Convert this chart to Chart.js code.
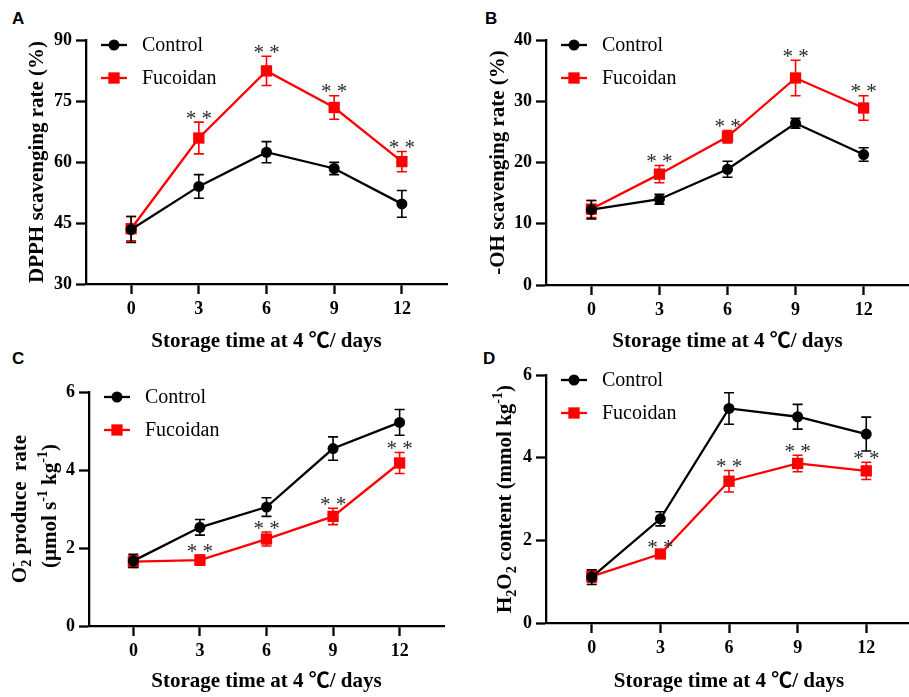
<!DOCTYPE html>
<html>
<head>
<meta charset="utf-8">
<script src="https://cdn.jsdelivr.net/npm/chart.js@4.4.1/dist/chart.umd.min.js"></script>
<style>
  html, body { margin: 0; padding: 0; background: #fff; width: 909px; height: 697px; overflow: hidden; position: relative; }
  canvas { position: absolute; }
  .tag { position: absolute; font: bold 17px 'Liberation Sans', Arial, sans-serif; line-height: 17px; color: #000; }
</style>
</head>
<body>
<div class="tag" style="left:12px; top:10px">A</div>
<div class="tag" style="left:485px; top:10px">B</div>
<div class="tag" style="left:12px; top:350px">C</div>
<div class="tag" style="left:483px; top:350px">D</div>
<script>
// storage days and x ticks
const days = [0, 3, 6, 9, 12];
const xTicks = [0, 3, 6, 9, 12];
const xTitle = 'Storage time at 4 \u2103/ days';
const sigMarks = ['', '* *', '* *', '* *', '* *'];

// A - DPPH
const dpphControl = [43.4, 54.0, 62.4, 58.4, 49.7];
const dpphControlErr = [3.2, 2.9, 2.6, 1.5, 3.3];
const dpphFucoidan = [43.6, 65.9, 82.4, 73.4, 60.1];
const dpphFucoidanErr = [3.0, 3.9, 3.6, 2.9, 2.5];
const dpphTicks = [30, 45, 60, 75, 90];

// B - OH
const ohControl = [12.3, 14.0, 18.9, 26.4, 21.3];
const ohControlErr = [1.5, 0.8, 1.3, 0.8, 1.1];
const ohFucoidan = [12.4, 18.1, 24.2, 33.8, 28.9];
const ohFucoidanErr = [1.4, 1.4, 1.0, 2.9, 2.0];
const ohTicks = [0, 10, 20, 30, 40];

// C - O2-
const o2Control = [1.67, 2.53, 3.05, 4.55, 5.22];
const o2ControlErr = [0.17, 0.2, 0.24, 0.3, 0.33];
const o2Fucoidan = [1.65, 1.69, 2.23, 2.81, 4.18];
const o2FucoidanErr = [0.15, 0.13, 0.18, 0.21, 0.27];
const o2Ticks = [0, 2, 4, 6];

// D - H2O2
const h2o2Control = [1.11, 2.52, 5.19, 4.99, 4.57];
const h2o2ControlErr = [0.18, 0.17, 0.38, 0.3, 0.41];
const h2o2Fucoidan = [1.13, 1.67, 3.43, 3.86, 3.68];
const h2o2FucoidanErr = [0.15, 0.05, 0.26, 0.2, 0.21];
const h2o2Ticks = [0, 2, 4, 6];

const serif = "'Liberation Serif', 'Times New Roman', 'Noto Sans CJK SC', serif";

function series(vals) {
    return days.map((d, i) => ({ x: d, y: vals[i] }));
}

// error bars, drawn just before each dataset so markers sit on top
const errorBars = {
    id: 'errorBars',
    beforeDatasetDraw(chart, args) {
        const ds = chart.data.datasets[args.index];
        if (!ds.errors) return;
        const ctx = chart.ctx, y = chart.scales.y;
        ctx.save();
        ctx.strokeStyle = ds.borderColor;
        ctx.lineWidth = 1.6;
        args.meta.data.forEach((pt, i) => {
            const v = ds.data[i].y, e = ds.errors[i];
            const top = y.getPixelForValue(v + e), bot = y.getPixelForValue(v - e);
            ctx.beginPath();
            ctx.moveTo(pt.x, top); ctx.lineTo(pt.x, bot);
            ctx.moveTo(pt.x - 5, top); ctx.lineTo(pt.x + 5, top);
            ctx.moveTo(pt.x - 5, bot); ctx.lineTo(pt.x + 5, bot);
            ctx.stroke();
        });
        ctx.restore();
    }
};

// significance stars above the error bars
const sigStars = {
    id: 'sigStars',
    afterDatasetsDraw(chart) {
        const ctx = chart.ctx, y = chart.scales.y;
        chart.data.datasets.forEach((ds, di) => {
            if (!ds.sig) return;
            const meta = chart.getDatasetMeta(di);
            ctx.save();
            ctx.fillStyle = '#2a2a2a';
            ctx.font = '21px ' + serif;
            ctx.textAlign = 'center';
            ctx.textBaseline = 'alphabetic';
            meta.data.forEach((pt, i) => {
                if (!ds.sig[i]) return;
                const top = y.getPixelForValue(ds.data[i].y + ds.errors[i]);
                ctx.fillText(ds.sig[i], pt.x, top + 2.5);
            });
            ctx.restore();
        });
    }
};

// legend: line + marker + label, top left inside the plot
const seriesKey = {
    id: 'seriesKey',
    afterDraw(chart) {
        const ctx = chart.ctx, a = chart.chartArea;
        chart.data.datasets.forEach((ds, i) => {
            const yy = a.top + 5 + i * 33;
            const x0 = a.left + 15, x1 = a.left + 41;
            ctx.save();
            ctx.strokeStyle = ds.borderColor;
            ctx.lineWidth = 2.3;
            ctx.beginPath(); ctx.moveTo(x0, yy); ctx.lineTo(x1, yy); ctx.stroke();
            ctx.fillStyle = ds.borderColor;
            Chart.helpers.drawPoint(ctx, { pointStyle: ds.pointStyle, radius: ds.pointRadius, borderWidth: 0 }, (x0 + x1) / 2, yy);
            ctx.fillStyle = '#000';
            ctx.font = '20px ' + serif;
            ctx.textBaseline = 'middle';
            ctx.fillText(ds.label, a.left + 56, yy + 1);
            ctx.restore();
        });
    }
};

// rotated y title with sub/superscripts
function richTitle(lines) {
    return {
        id: 'richTitle',
        afterDraw(chart) {
            const ctx = chart.ctx, a = chart.chartArea;
            const big = 'bold 21px ' + serif, small = 'bold 14px ' + serif;
            lines.forEach(line => {
                const cy = (a.top + a.bottom) / 2 + (line.dy || 0);
                ctx.save();
                ctx.fillStyle = '#000';
                ctx.textBaseline = 'alphabetic';
                let w = 0;
                line.parts.forEach(p => {
                    ctx.font = p.s ? small : big;
                    p.w = ctx.measureText(p.t).width;
                    if (p.up) p.w = Math.max(p.w, ctx.measureText(p.up).width);
                    w += p.w;
                });
                ctx.translate(line.x, cy);
                ctx.rotate(-Math.PI / 2);
                let x = -w / 2;
                line.parts.forEach(p => {
                    ctx.font = p.s ? small : big;
                    if (p.s === 'sub') {
                        ctx.fillText(p.t, x, 5);
                        if (p.up) ctx.fillText(p.up, x, -9);
                    } else if (p.s === 'sup') {
                        ctx.fillText(p.t, x, -9);
                    } else {
                        ctx.fillText(p.t, x, 0);
                    }
                    x += p.w;
                });
                ctx.restore();
            });
        }
    };
}

function makePanel(p) {
    const cv = document.createElement('canvas');
    cv.width = p.box.w; cv.height = p.box.h;
    cv.style.left = p.box.x + 'px'; cv.style.top = p.box.y + 'px';
    document.body.appendChild(cv);

    const axisGrid = { drawOnChartArea: false, drawTicks: true, tickLength: 10, tickWidth: 2.3, tickColor: '#000' };
    const axisBorder = { display: true, width: 2.3, color: '#000' };
    const tickFont = { family: serif, size: 18, weight: 'bold' };

    new Chart(cv, {
        type: 'line',
        data: {
            datasets: [
                {
                    label: 'Control', data: series(p.control), errors: p.controlErr,
                    borderColor: '#000000', backgroundColor: '#000000', borderWidth: 2.3,
                    pointStyle: 'circle', pointRadius: 5.5, pointBorderWidth: 0, tension: 0
                },
                {
                    label: 'Fucoidan', data: series(p.fucoidan), errors: p.fucoidanErr, sig: sigMarks,
                    borderColor: '#ff0000', backgroundColor: '#ff0000', borderWidth: 2.3,
                    pointStyle: 'rect', pointRadius: 8, pointBorderWidth: 0, tension: 0
                }
            ]
        },
        options: {
            responsive: false,
            animation: false,
            devicePixelRatio: 1,
            layout: { padding: { left: 0, top: p.area.top, right: p.box.w - p.area.right, bottom: 0 } },
            scales: {
                x: {
                    type: 'linear', min: -2, max: 14,
                    afterBuildTicks: s => { s.ticks = xTicks.map(v => ({ value: v })); },
                    afterFit: s => { s.height = p.box.h - p.area.bottom; },
                    grid: axisGrid, border: axisBorder,
                    ticks: { font: tickFont, color: '#000', padding: 5 },
                    title: {
                        display: true, text: xTitle, color: '#000',
                        font: { family: serif, size: 21, weight: 'bold' },
                        padding: { top: 0, bottom: p.titlePad }
                    }
                },
                y: {
                    min: p.yTicks[0], max: p.yTicks[p.yTicks.length - 1],
                    afterBuildTicks: s => { s.ticks = p.yTicks.map(v => ({ value: v })); },
                    afterFit: s => { s.width = p.area.left; },
                    grid: axisGrid, border: axisBorder,
                    ticks: { font: tickFont, color: '#000', padding: 4 }
                }
            },
            plugins: { legend: { display: false }, tooltip: { enabled: false } }
        },
        plugins: [errorBars, sigStars, seriesKey, richTitle(p.yTitle)]
    });
}

makePanel({
    box: { x: 0, y: 0, w: 455, h: 360 },
    area: { left: 86, top: 40, right: 452, bottom: 284 },
    titlePad: 6,
    yTicks: dpphTicks,
    control: dpphControl, controlErr: dpphControlErr,
    fucoidan: dpphFucoidan, fucoidanErr: dpphFucoidanErr,
    yTitle: [{ x: 43, parts: [{ t: 'DPPH scavenging rate (%)' }] }]
});

makePanel({
    box: { x: 455, y: 0, w: 462, h: 360 },
    area: { left: 91, top: 40, right: 458, bottom: 285 },
    titlePad: 6,
    yTicks: ohTicks,
    control: ohControl, controlErr: ohControlErr,
    fucoidan: ohFucoidan, fucoidanErr: ohFucoidanErr,
    yTitle: [{ x: 49, parts: [{ t: '-OH scavenging rate (%)' }] }]
});

makePanel({
    box: { x: 0, y: 340, w: 455, h: 357 },
    area: { left: 89, top: 52, right: 444, bottom: 286 },
    titlePad: 3,
    yTicks: o2Ticks,
    control: o2Control, controlErr: o2ControlErr,
    fucoidan: o2Fucoidan, fucoidanErr: o2FucoidanErr,
    yTitle: [
        { x: 26, parts: [{ t: 'O' }, { t: '2', s: 'sub', up: '-' }, { t: ' produce  rate' }] },
        { x: 56, dy: -3, parts: [{ t: '(\u03bcmol s' }, { t: '-1', s: 'sup' }, { t: ' kg' }, { t: '-1', s: 'sup' }, { t: ')' }] }
    ]
});

makePanel({
    box: { x: 455, y: 340, w: 465, h: 357 },
    area: { left: 91, top: 35, right: 462, bottom: 283 },
    titlePad: 3,
    yTicks: h2o2Ticks,
    control: h2o2Control, controlErr: h2o2ControlErr,
    fucoidan: h2o2Fucoidan, fucoidanErr: h2o2FucoidanErr,
    yTitle: [{ x: 56, parts: [{ t: 'H' }, { t: '2', s: 'sub' }, { t: 'O' }, { t: '2', s: 'sub' }, { t: ' content (mmol kg' }, { t: '-1', s: 'sup' }, { t: ')' }] }]
});
</script>
</body>
</html>
